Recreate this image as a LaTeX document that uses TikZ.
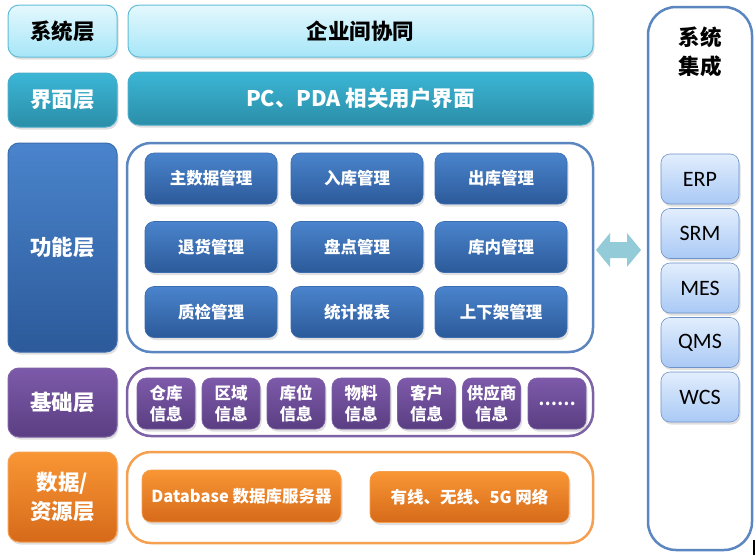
\documentclass[tikz,border=0pt]{standalone}
\usepackage{fontspec}
\setmainfont{Noto Sans CJK SC}
\newfontfamily\latfont{Carlito}
\usetikzlibrary{shadows}

\definecolor{sysTop}{HTML}{E4F8FD}
\definecolor{sysBot}{HTML}{A6E6F8}
\definecolor{sysLine}{HTML}{62BCD6}
\definecolor{uiTop}{HTML}{3BB6D6}
\definecolor{uiBot}{HTML}{2B8EA8}
\definecolor{uiLine}{HTML}{4AACCB}
\definecolor{funTop}{HTML}{4A84CC}
\definecolor{funBot}{HTML}{2C5A9A}
\definecolor{funLine}{HTML}{3A6CB0}
\definecolor{funFrame}{HTML}{5B86C0}
\definecolor{baseTop}{HTML}{7D5AAA}
\definecolor{baseBot}{HTML}{5A3E82}
\definecolor{baseFrame}{HTML}{7E62A6}
\definecolor{datTop}{HTML}{F99634}
\definecolor{datBot}{HTML}{D66A1A}
\definecolor{datFrame}{HTML}{F5A050}
\definecolor{intTop}{HTML}{E2EEFD}
\definecolor{intBot}{HTML}{A9C9F5}
\definecolor{intLine}{HTML}{6E92C8}
\definecolor{arrowCol}{HTML}{93CBD9}

\newcommand\bigtxt{\fontsize{21.5}{29}\selectfont\bfseries}
\newcommand\midtxt{\fontsize{16.5}{21.5}\selectfont\bfseries}

\tikzset{
  shadowed/.style={drop shadow={shadow xshift=1.5pt,shadow yshift=-2.5pt,opacity=0.25}},
  layer/.style n args={3}{top color=#1, bottom color=#2, draw=#3, line width=1pt,
    rounded corners=11pt, text=white, font=\bigtxt, align=center, shadowed},
  item/.style n args={3}{top color=#1, bottom color=#2, draw=#3, line width=0.6pt,
    rounded corners=9pt, text=white, font=\midtxt, align=center, shadowed},
  frame/.style={draw=#1, line width=2.5pt, rounded corners=24pt, fill=white}
}

\begin{document}
\begin{tikzpicture}[x=1pt,y=-1pt]
\useasboundingbox (0,0) rectangle (756,555);

% left column
\node[layer={sysTop}{sysBot}{sysLine}, text=black, minimum width=109pt, minimum height=52pt] (syslayer) at (62.5,31) {系统层};
\node[layer={uiTop}{uiBot}{uiLine}, minimum width=109pt, minimum height=54pt] (uilayer) at (62.5,100) {界面层};
\node[layer={funTop}{funBot}{funLine}, minimum width=109pt, minimum height=209pt] (funlayer) at (62.5,247.5) {功能层};
\node[layer={baseTop}{baseBot}{baseFrame}, minimum width=109pt, minimum height=69pt] (baselayer) at (62.5,402.5) {基础层};
\node[layer={datTop}{datBot}{datFrame}, minimum width=109pt, minimum height=90pt] (datlayer) at (62.5,497) {数据/\\资源层};

% wide boxes
\node[layer={sysTop}{sysBot}{sysLine}, text=black, minimum width=465pt, minimum height=52pt] (coop) at (360.5,31) {企业间协同};
\node[layer={uiTop}{uiBot}{uiLine}, minimum width=465pt, minimum height=53pt] (pcui) at (360.5,98.5) {PC、PDA 相关用户界面};

% frames
\node[frame=funFrame, minimum width=466pt, minimum height=209pt] (funframe) at (360,247.5) {};
\node[frame=baseFrame, minimum width=466pt, minimum height=68pt] (baseframe) at (360,402) {};
\node[frame=datFrame, minimum width=466pt, minimum height=91pt] (datframe) at (360,497.5) {};

% function modules
\node[item={funTop}{funBot}{funLine}, minimum width=132pt, minimum height=51pt] (master) at (211,178.5) {主数据管理};
\node[item={funTop}{funBot}{funLine}, minimum width=132pt, minimum height=51pt] (inbound) at (357,178.5) {入库管理};
\node[item={funTop}{funBot}{funLine}, minimum width=132pt, minimum height=51pt] (outbound) at (501,178.5) {出库管理};
\node[item={funTop}{funBot}{funLine}, minimum width=132pt, minimum height=51pt] (returns) at (211,247) {退货管理};
\node[item={funTop}{funBot}{funLine}, minimum width=132pt, minimum height=51pt] (count) at (357,247) {盘点管理};
\node[item={funTop}{funBot}{funLine}, minimum width=132pt, minimum height=51pt] (instore) at (501,247) {库内管理};
\node[item={funTop}{funBot}{funLine}, minimum width=132pt, minimum height=51pt] (quality) at (211,312) {质检管理};
\node[item={funTop}{funBot}{funLine}, minimum width=132pt, minimum height=51pt] (report) at (357,312) {统计报表};
\node[item={funTop}{funBot}{funLine}, minimum width=132pt, minimum height=51pt] (shelf) at (501,312) {上下架管理};

% base info
\node[item={baseTop}{baseBot}{baseFrame}, minimum width=58pt, minimum height=51pt] (wh) at (166,403.5) {仓库\\信息};
\node[item={baseTop}{baseBot}{baseFrame}, minimum width=58pt, minimum height=51pt] (zone) at (231,403.5) {区域\\信息};
\node[item={baseTop}{baseBot}{baseFrame}, minimum width=58pt, minimum height=51pt] (loc) at (296,403.5) {库位\\信息};
\node[item={baseTop}{baseBot}{baseFrame}, minimum width=58pt, minimum height=51pt] (mat) at (361,403.5) {物料\\信息};
\node[item={baseTop}{baseBot}{baseFrame}, minimum width=58pt, minimum height=51pt] (cust) at (426.5,403.5) {客户\\信息};
\node[item={baseTop}{baseBot}{baseFrame}, minimum width=58pt, minimum height=51pt] (supp) at (491.5,403.5) {供应商\\信息};
\node[item={baseTop}{baseBot}{baseFrame}, minimum width=58pt, minimum height=51pt] (more) at (557,403.5) {……};

% data / resources
\node[item={datTop}{datBot}{datFrame}, minimum width=199pt, minimum height=52pt] (db) at (241.5,496) {Database 数据库服务器};
\node[item={datTop}{datBot}{datFrame}, minimum width=199pt, minimum height=51pt] (net) at (469.5,497) {有线、无线、5G 网络};

% system integration
\node[frame=funFrame, rounded corners=28pt, minimum width=104pt, minimum height=543pt] (sysframe) at (700,278.5) {};
\node[font=\bigtxt, align=center] (systitle) at (700,52) {系统\\集成};
\node[item={intTop}{intBot}{intLine}, text=black, font=\latfont\fontsize{22}{24}\selectfont, minimum width=78pt, minimum height=50pt] (erp) at (700,179) {ERP};
\node[item={intTop}{intBot}{intLine}, text=black, font=\latfont\fontsize{22}{24}\selectfont, minimum width=78pt, minimum height=50pt] (srm) at (700,233.5) {SRM};
\node[item={intTop}{intBot}{intLine}, text=black, font=\latfont\fontsize{22}{24}\selectfont, minimum width=78pt, minimum height=50pt] (mes) at (700,288) {MES};
\node[item={intTop}{intBot}{intLine}, text=black, font=\latfont\fontsize{22}{24}\selectfont, minimum width=78pt, minimum height=50pt] (qms) at (700,342.5) {QMS};
\node[item={intTop}{intBot}{intLine}, text=black, font=\latfont\fontsize{22}{24}\selectfont, minimum width=78pt, minimum height=50pt] (wcs) at (700,397) {WCS};

% exchange arrow
\coordinate (ex) at (618.5,250);
\fill[arrowCol] (ex) ++(-22.5,0) -- ++(14,-17) -- ++(0,9) -- ++(17,0) -- ++(0,-9)
  -- ++(14,17) -- ++(-14,17) -- ++(0,-9) -- ++(-17,0) -- ++(0,9) -- cycle;

\draw[line width=2pt] (754,540) -- (754,555);
\end{tikzpicture}
\end{document}
